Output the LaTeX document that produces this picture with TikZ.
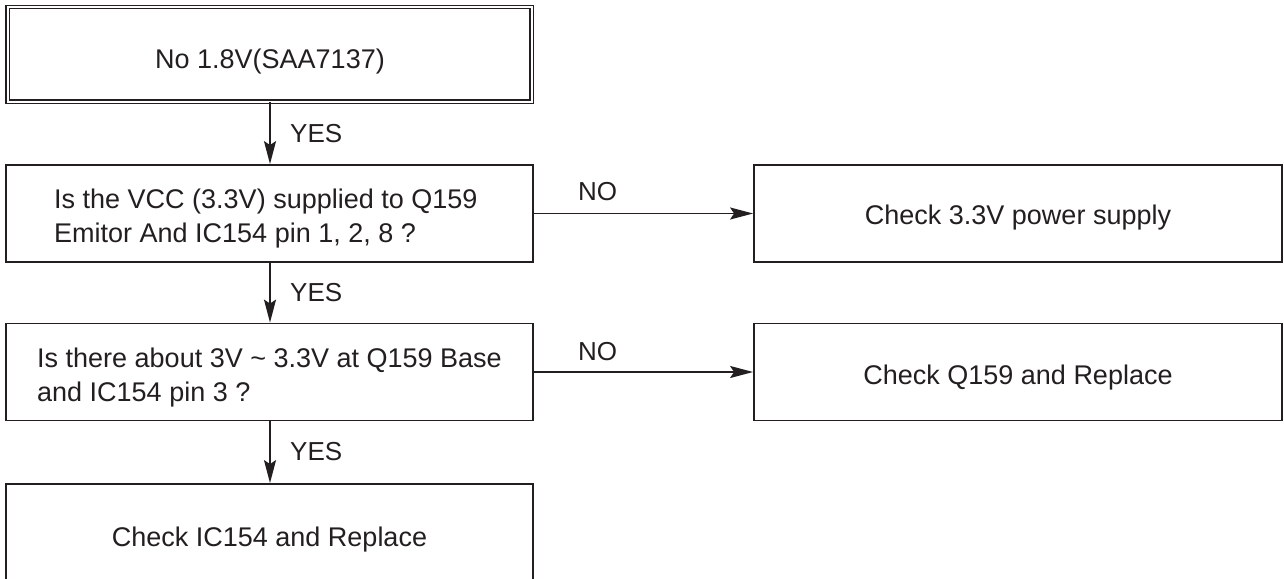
\documentclass[tikz,border=0pt]{standalone}
\usepackage{fontspec}
\setmainfont{Liberation Sans}
\usetikzlibrary{arrows.meta}
\definecolor{ink}{RGB}{35,31,32}
\tikzset{
  box/.style={draw=ink, line width=1.8pt, inner sep=0pt, minimum width=527pt, minimum height=97pt},
  bigbox/.style={draw=ink, line width=1.4pt, double=white, double distance=2pt, inner sep=0pt, minimum width=524pt, minimum height=94.5pt},
  arr/.style={draw=ink, line width=1.7pt, -{Stealth[length=23pt, width=12pt, inset=4pt]}},
  txt/.style={text=ink, inner sep=0pt, font={\fontsize{27pt}{34pt}\selectfont}},
  lbl/.style={text=ink, inner sep=0pt, anchor=base west, font={\fontsize{26pt}{30pt}\selectfont}}
}
\begin{document}
\begin{tikzpicture}[x=1pt, y=-1pt]
\clip (0,0) rectangle (1284,578);
\fill[white] (0,0) rectangle (1284,578);
% boxes
\node[bigbox] (b1) at (269.5,54.25) {};
\node[box] (b2) at (269.5,213.5) {};
\node[box] (b3) at (269.5,372) {};
\node[box] (b4) at (269.5,532.5) {};
\node[box, minimum width=528pt] (r1) at (1018,213.5) {};
\node[box, minimum width=528pt] (r2) at (1018,372) {};
% texts (anchor base = baseline of last line)
\node[txt, anchor=base] (t1) at (270,69) {No 1.8V(SAA7137)};
\node[txt, anchor=base west, align=left] (t2) at (54,242) {Is the VCC (3.3V) supplied to Q159\\Emitor And IC154 pin 1, 2, 8 ?};
\node[txt, anchor=base west, align=left] (t3) at (37,401) {Is there about 3V {\char"7E} 3.3V at Q159 Base\\and IC154 pin 3 ?};
\node[txt, anchor=base] (t4) at (269.5,546) {Check IC154 and Replace};
\node[txt, anchor=base] (t5) at (1018,224) {Check 3.3V power supply};
\node[txt, anchor=base] (t6) at (1018,384) {Check Q159 and Replace};
% connectors
\draw[arr] (b1.south -| 270,0) -- (b2.north -| 270,0);
\draw[arr] (b2.south -| 270,0) -- (b3.north -| 270,0);
\draw[arr] (b3.south -| 270,0) -- (b4.north -| 270,0);
\draw[arr] (b2.east) -- (r1.west);
\draw[arr] (b3.east) -- (r2.west);
% labels
\node[lbl] (y1) at (290,142) {YES};
\node[lbl] (y2) at (290,301) {YES};
\node[lbl] (y3) at (290,460) {YES};
\node[lbl] (n1) at (578,200) {NO};
\node[lbl] (n2) at (578,360) {NO};
\end{tikzpicture}
\end{document}
